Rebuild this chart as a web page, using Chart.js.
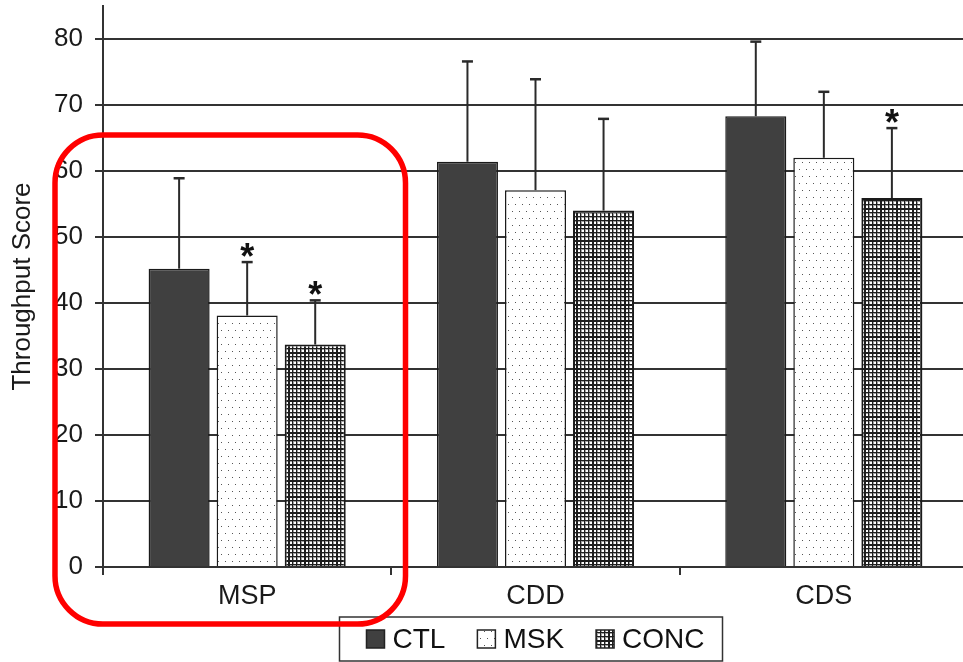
<!DOCTYPE html>
<html><head><meta charset="utf-8">
<script src="https://cdn.jsdelivr.net/npm/chart.js@4/dist/chart.umd.min.js"></script>
<style>html,body{margin:0;padding:0;background:#fff;overflow:hidden;width:963px;height:662px}</style>
</head><body>
<canvas id="c" width="970" height="662" style="display:block;width:970px;height:662px"></canvas>
<script>
const categories = ['MSP', 'CDD', 'CDS'];
const seriesNames = ['CTL', 'MSK', 'CONC'];
const ctlMeans = [45.2, 61.4, 68.3];
const mskMeans = [38.1, 57.1, 62.0];
const concMeans = [33.7, 54.0, 55.9];
const ctlSD = [13.7, 15.2, 11.3];
const mskSD = [8.1, 16.8, 10.0];
const concSD = [6.7, 13.9, 10.6];
const ctlSig = [false, false, false];
const mskSig = [true, false, false];
const concSig = [true, false, true];
const yTicks = [0, 10, 20, 30, 40, 50, 60, 70, 80];
const yAxisTitle = 'Throughput Score';

const FONT = '"Liberation Sans", Arial, sans-serif';
const canvas = document.getElementById('c');
const ctx = canvas.getContext('2d');

function makePattern(w, h, draw) {
  const c = document.createElement('canvas');
  c.width = w; c.height = h;
  const g = c.getContext('2d');
  draw(g);
  return ctx.createPattern(c, 'repeat');
}
const dotPattern = makePattern(14, 14, g => {
  g.fillStyle = '#ffffff'; g.fillRect(0, 0, 14, 14);
  g.fillStyle = '#555555';
  g.fillRect(1, 1, 1, 1); g.fillRect(8, 1, 1, 1);
  g.fillRect(4, 8, 1, 1); g.fillRect(11, 8, 1, 1);
});
const gridPattern = makePattern(16, 16, g => {
  g.fillStyle = '#ffffff'; g.fillRect(0, 0, 16, 16);
  for (let k = 0; k < 4; k++) {
    g.fillStyle = '#a0a0a0';
    g.fillRect(k * 4 + 1, 0, 1, 16); g.fillRect(0, k * 4 + 1, 16, 1);
  }
  for (let k = 0; k < 4; k++) {
    g.fillStyle = '#1e1e1e';
    g.fillRect(k * 4, 0, 1, 16); g.fillRect(0, k * 4, 16, 1);
  }
  g.fillStyle = '#1e1e1e';
  g.fillRect(1, 0, 1, 16); g.fillRect(0, 1, 16, 1);
});

const errorBarPlugin = {
  id: 'errbars',
  afterDatasetsDraw(chart) {
    const c = chart.ctx, y = chart.scales.y;
    chart.data.datasets.forEach((ds, i) => {
      const meta = chart.getDatasetMeta(i);
      meta.data.forEach((bar, j) => {
        const top = y.getPixelForValue(ds.data[j] + ds.sd[j]);
        c.save();
        c.strokeStyle = '#2a2a2a';
        c.lineWidth = 2;
        c.beginPath(); c.moveTo(bar.x, bar.y); c.lineTo(bar.x, top); c.stroke();
        c.lineWidth = 2.5;
        c.beginPath(); c.moveTo(bar.x - 5.5, top); c.lineTo(bar.x + 5.5, top); c.stroke();
        if (ds.sig[j]) {
          const fs = 36;
          c.fillStyle = '#111';
          c.font = 'bold ' + fs + 'px ' + FONT;
          c.textAlign = 'center';
          c.textBaseline = 'alphabetic';
          c.fillText('*', bar.x, top + 0.43 * fs - 9);
        }
        c.restore();
      });
    });
  }
};

// Legend drawn in a boxed row beneath the axis, using the datasets' own labels and fills
const boxedLegendPlugin = {
  id: 'boxedLegend',
  afterDraw(chart) {
    const c = chart.ctx;
    const dsets = chart.data.datasets;
    const fs = 28, sq = 18, gapText = 8, gapItem = 32;
    c.save();
    c.font = fs + 'px ' + FONT;
    const widths = dsets.map(d => sq + gapText + c.measureText(d.label).width);
    const total = widths.reduce((a, b) => a + b, 0) + gapItem * (dsets.length - 1);
    const centerX = (chart.chartArea.left + chart.chartArea.right) / 2;
    const cy = 639;
    let x = centerX - total / 2;
    c.strokeStyle = '#333';
    c.lineWidth = 1.5;
    c.strokeRect(x - 27, 617, total + 45, 44);
    dsets.forEach((d, i) => {
      c.fillStyle = d.backgroundColor;
      c.fillRect(x, cy - sq / 2, sq, sq);
      c.strokeStyle = '#222';
      c.lineWidth = 1.5;
      c.strokeRect(x, cy - sq / 2, sq, sq);
      c.fillStyle = '#111';
      c.textAlign = 'left';
      c.textBaseline = 'middle';
      c.fillText(d.label, x + sq + gapText, cy + 1);
      x += widths[i] + gapItem;
    });
    c.restore();
  }
};

const highlightPlugin = {
  id: 'highlight',
  afterDraw(chart) {
    const c = chart.ctx;
    c.save();
    c.strokeStyle = '#ff0000';
    c.lineWidth = 5.5;
    c.beginPath();
    c.roundRect(55, 135, 350.5, 489, 48);
    c.stroke();
    c.restore();
  }
};

const fills = ['#404040', dotPattern, gridPattern];
const means = [ctlMeans, mskMeans, concMeans];
const sds = [ctlSD, mskSD, concSD];
const sigs = [ctlSig, mskSig, concSig];

new Chart(ctx, {
  type: 'bar',
  data: {
    labels: categories,
    datasets: seriesNames.map((name, i) => ({
      label: name,
      data: means[i],
      sd: sds[i],
      sig: sigs[i],
      backgroundColor: fills[i],
      borderColor: '#1a1a1a',
      borderWidth: i === 2 ? 2 : 1.5
    }))
  },
  options: {
    responsive: false,
    animation: false,
    devicePixelRatio: 1,
    layout: { padding: { top: 6, right: 2, left: 0, bottom: 45 } },
    datasets: { bar: { categoryPercentage: 0.708, barPercentage: 0.897 } },
    plugins: {
      legend: { display: false },
      tooltip: { enabled: false }
    },
    scales: {
      x: {
        afterFit: s => { s.height = 50; s.paddingLeft = 0; s.paddingRight = 0; },
        grid: { display: true, drawOnChartArea: false, drawTicks: true, tickLength: 8, color: '#333', lineWidth: 2, offset: true },
        border: { display: true, color: '#333', width: 2 },
        ticks: { font: { family: FONT, size: 27 }, color: '#1a1a1a', padding: 5 }
      },
      y: {
        min: 0, max: 85,
        afterBuildTicks: s => { s.ticks = yTicks.map(v => ({ value: v })); },
        afterFit: s => { s.width = 103; s.paddingTop = 0; s.paddingBottom = 0; },
        grid: { color: '#333', lineWidth: 2, tickLength: 8 },
        border: { display: true, color: '#333', width: 2 },
        ticks: { font: { family: FONT, size: 26 }, color: '#1a1a1a', padding: 12 },
        title: { display: true, text: yAxisTitle, font: { family: FONT, size: 26 }, color: '#1a1a1a', padding: { top: 7, bottom: 0 } }
      }
    }
  },
  plugins: [errorBarPlugin, boxedLegendPlugin, highlightPlugin]
});
</script>
</body></html>
